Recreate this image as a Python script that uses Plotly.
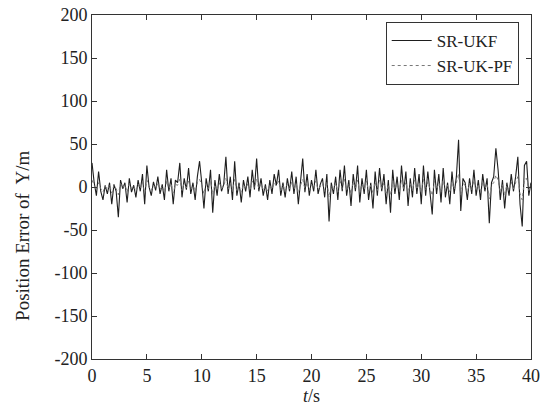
import plotly.graph_objects as go

t = [round(i * 0.2, 1) for i in range(201)]

sr_ukf = [
    28, 5, -10, 18, -5,
    -15, 2, -8, 5, -20,
    3, -5, -35, 8, -2,
    5, -18, 10, -6, 2,
    -12, 8, -5, 15, -20,
    25, 0, -10, 6, -4,
    12, -8, 3, -15, 20,
    -5, 10, -20, 8, 5,
    28, -12, 10, -3, 22,
    -8, 5, -15, 12, 30,
    5, -25, 10, -5, 20,
    -30, 8, -10, 15, -5,
    3, 35, -8, 12, -15,
    30, -10, 5, -18, 8,
    -5, 12, -12, 20, -3,
    33, -5, 10, -10, 3,
    -15, 8, -8, 15, 2,
    20, -10, 5, -12, 10,
    -5, 18, -8, 12, -20,
    5, 33, -6, 15, -10,
    8, -5, 20, -8, 3,
    10, -12, 15, -40, 5,
    -8, 12, -15, 20, -5,
    25, -10, 8, -22, 15,
    -5, 25, -18, 10, -8,
    20, -15, 5, -25, 18,
    -10, 22, -5, 15, -20,
    8, -30, 20, -8, 12,
    -15, 25, -5, 18, -22,
    10, -12, 22, -8, 15,
    -20, 25, -10, 18, -5,
    -32, 20, -8, 15, -18,
    22, -12, 5, -20, 18,
    -8, 12, 55, -28, 10,
    5, -15, 10, -8, 20,
    -10, 8, -15, 15, -5,
    10, -42, 5, 12, 45,
    20, -15, 8, -25, 5,
    -10, 15, -5, 12, 35,
    -20, -46, 25, 30, -10,
    5,
]

sr_uk_pf = [
    8, 2, -4, 5, -2,
    -6, 1, -3, 3, -7,
    2, -2, -9, 4, -1,
    3, -6, 4, -2, 1,
    -5, 3, -2, 6, -7,
    8, 0, -4, 2, -2,
    5, -3, 1, -6, 7,
    -2, 4, -7, 3, 2,
    9, -4, 4, -1, 7,
    -3, 2, -5, 5, 9,
    2, -8, 4, -2, 7,
    -9, 3, -4, 5, -2,
    1, 10, -3, 4, -5,
    9, -4, 2, -6, 3,
    -2, 4, -4, 7, -1,
    9, -2, 4, -4, 1,
    -5, 3, -3, 5, 1,
    7, -4, 2, -5, 4,
    -2, 6, -3, 4, -7,
    2, 9, -2, 5, -4,
    3, -2, 7, -3, 1,
    4, -5, 6, -12, 2,
    -3, 5, -6, 7, -2,
    9, -4, 3, -8, 6,
    -2, 8, -6, 4, -3,
    7, -5, 2, -8, 6,
    -4, 8, -2, 5, -7,
    3, -10, 7, -3, 4,
    -5, 8, -2, 6, -7,
    4, -4, 8, -3, 5,
    -7, 9, -4, 6, -2,
    -10, 7, -3, 5, -6,
    8, -4, 2, -7, 6,
    -3, 5, 15, -9, 4,
    2, -6, 4, -3, 8,
    -4, 3, -6, 6, -2,
    4, -14, 2, 5, 14,
    8, -6, 3, -10, 2,
    -4, 6, -2, 5, 12,
    -8, -15, 9, 10, -4,
    2,
]

x_ticks = list(range(0, 41, 5))
y_ticks = list(range(-200, 201, 50))
y_ticktext = [str(v) for v in y_ticks]  # ASCII hyphen like the reference
y_title = "Position Error of  Y/m"
x_title = "<i>t</i>/s"

fig = go.Figure()
fig.add_trace(go.Scatter(
    x=t, y=sr_ukf, mode="lines", name="SR-UKF",
    line=dict(color="#1e1e1e", width=1.1),
))
fig.add_trace(go.Scatter(
    x=t, y=sr_uk_pf, mode="lines", name="SR-UK-PF",
    line=dict(color="#777777", width=1, dash="dot"),
))

font_family = "Liberation Serif, Times New Roman, serif"
axis_common = dict(
    showgrid=False, zeroline=False, showline=True, mirror="ticks",
    linecolor="#333333", linewidth=1, ticks="inside", ticklen=5,
    tickcolor="#333333", tickfont=dict(family=font_family, size=18, color="#222222"),
    ticklabeloverflow="allow", automargin=False,
)

fig.update_layout(
    width=544, height=414,
    margin=dict(l=92, r=13, t=15, b=55),
    paper_bgcolor="white", plot_bgcolor="white",
    font=dict(family=font_family, color="#222222"),
    xaxis=dict(range=[0, 40], tickvals=x_ticks,
               title=dict(text=x_title, font=dict(size=18), standoff=4),
               **axis_common),
    yaxis=dict(range=[-200, 200], tickvals=y_ticks, ticktext=y_ticktext,
               **axis_common),
    legend=dict(x=0.972, y=0.98, xanchor="right", yanchor="top",
                bordercolor="#333333", borderwidth=1, bgcolor="white",
                font=dict(family=font_family, size=17, color="#222222"),
                tracegroupgap=0, itemwidth=40),
    showlegend=True,
    annotations=[dict(
        text=y_title, textangle=-90, showarrow=False,
        xref="paper", yref="paper", x=-0.16, y=0.36,
        xanchor="center", yanchor="middle",
        font=dict(family=font_family, size=19, color="#222222"),
    )],
)

fig.write_html(
    "out.html",
    config={"displayModeBar": False},
    post_script="document.body.style.margin='0';document.body.style.overflow='hidden';",
)
